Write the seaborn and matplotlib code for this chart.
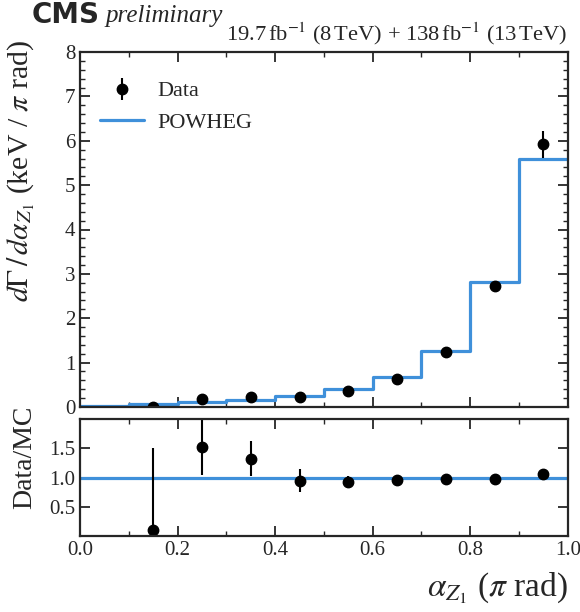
import numpy as np
import seaborn as sns
import matplotlib.pyplot as plt
from matplotlib.ticker import MultipleLocator, NullLocator

# binning in alpha_Z1 (pi rad)
bin_edges = [0.0, 0.1, 0.2, 0.3, 0.4, 0.5, 0.6, 0.7, 0.8, 0.9, 1.0]
bin_centers = [0.15, 0.25, 0.35, 0.45, 0.55, 0.65, 0.75, 0.85, 0.95]

# POWHEG prediction per bin (keV / pi rad)
powheg = [0.02, 0.06, 0.11, 0.16, 0.24, 0.40, 0.67, 1.27, 2.82, 5.58]

# measured data
data = [0.01, 0.18, 0.22, 0.23, 0.36, 0.64, 1.25, 2.73, 5.92]
data_err = [0.03, 0.06, 0.05, 0.04, 0.04, 0.05, 0.07, 0.12, 0.30]

# data / MC ratio
ratio = [0.10, 1.52, 1.32, 0.95, 0.93, 0.96, 0.98, 0.97, 1.06]
ratio_err = [1.40, 0.48, 0.30, 0.20, 0.10, 0.05, 0.05, 0.05, 0.05]

sns.set_theme(style="ticks")
plt.rcParams['font.family'] = ['Liberation Serif', 'DejaVu Serif']
plt.rcParams['mathtext.fontset'] = 'stix'

blue = '#3f90da'

fig = plt.figure(figsize=(5.8, 6.12), dpi=100)
ax = fig.add_axes([0.138, 0.335, 0.841, 0.580])
rax = fig.add_axes([0.138, 0.124, 0.841, 0.191], sharex=ax)

# top panel
step_y = powheg + [powheg[-1]]
sns.lineplot(x=bin_edges, y=step_y, ax=ax, drawstyle='steps-post', color=blue,
             linewidth=2.3, label='POWHEG', sort=False)
ax.errorbar(bin_centers, data, yerr=data_err, fmt='o', color='black', ms=7.5,
            elinewidth=1.5, capsize=0, label='Data')
handles, labels = ax.get_legend_handles_labels()
ax.legend(handles[::-1], labels[::-1], loc='upper left', frameon=False,
          fontsize=16, bbox_to_anchor=(0.0, 0.975), handlelength=2.0,
          handletextpad=0.6)
ax.set_xlim(0, 1)
ax.set_ylim(0, 8)
ax.set_ylabel(r'$d\Gamma\,/\,d\alpha_{Z_1}$ (keV / $\pi$ rad)', fontsize=21.5, loc='top')
ax.yaxis.set_label_coords(-0.088, 1.034)
ax.yaxis.set_major_locator(MultipleLocator(1))
ax.yaxis.set_minor_locator(MultipleLocator(0.2))
ax.xaxis.set_major_locator(MultipleLocator(0.2))
ax.xaxis.set_minor_locator(MultipleLocator(0.1))
ax.tick_params(labelbottom=False)

# ratio panel
rax.axhline(1.0, color=blue, linewidth=2.3)
rax.errorbar(bin_centers, ratio, yerr=ratio_err, fmt='o', color='black', ms=7.5,
             elinewidth=1.5, capsize=0)
rax.set_ylim(0, 2)
rax.set_yticks([0.5, 1.0, 1.5])
rax.yaxis.set_minor_locator(NullLocator())
rax.set_ylabel('Data/MC', fontsize=20, loc='top')
rax.yaxis.set_label_coords(-0.088, 1.12)
rax.set_xlabel(r'$\alpha_{Z_1}$ ($\pi$ rad)', fontsize=24, loc='right', labelpad=8)
rax.set_xlim(0, 1)

for a in (ax, rax):
    a.tick_params(which='both', direction='in', top=True, right=True, labelsize=15)
    a.tick_params(which='major', length=7, width=1.3)
    a.tick_params(which='minor', length=3.5, width=1.0)
    for s in a.spines.values():
        s.set_linewidth(1.6)

fig.text(0.055, 0.962, 'CMS', fontsize=20, fontweight='bold', family='DejaVu Sans')
fig.text(0.182, 0.964, 'preliminary', fontsize=18, style='italic')
fig.text(0.979, 0.934, r'19.7$\,$fb$^{-1}$ (8$\,$TeV) + 138$\,$fb$^{-1}$ (13$\,$TeV)',
         fontsize=16.2, ha='right')

fig.savefig('out.png', dpi=100)
